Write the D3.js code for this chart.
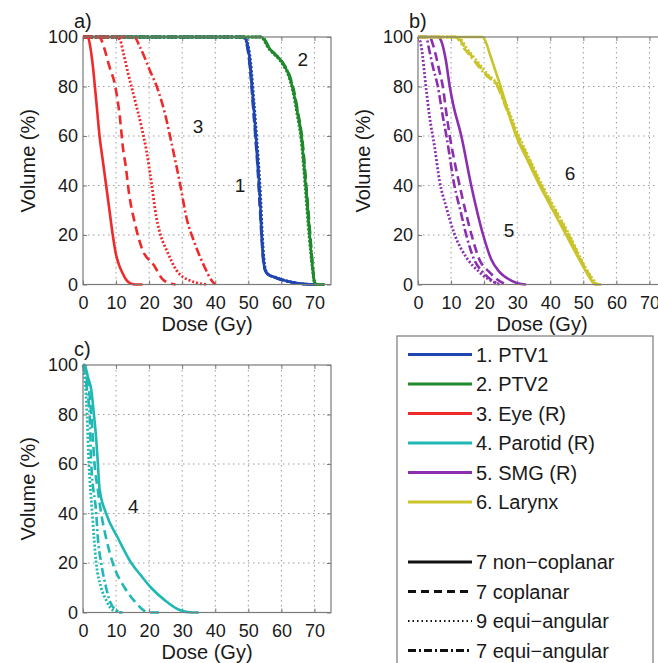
<!DOCTYPE html>
<html><head><meta charset="utf-8">
<script src="https://cdn.jsdelivr.net/npm/d3@7"></script>
<style>
html,body{margin:0;padding:0;background:#fff;}
svg{display:block;font-family:"Liberation Sans",Arial,Helvetica,sans-serif;}
</style></head>
<body>
<svg id="chart" width="658" height="663"></svg>
<script>
// ---- tick labels ----
const doseTicks = [0, 10, 20, 30, 40, 50, 60, 70];
const volumeTicks = [0, 20, 40, 60, 80, 100];

// ---- structures & techniques ----
const structureNames = ["1. PTV1", "2. PTV2", "3. Eye (R)", "4. Parotid (R)", "5. SMG (R)", "6. Larynx"];
const techniqueNames = ["7 non\u2212coplanar", "7 coplanar", "9 equi\u2212angular", "7 equi\u2212angular"];

// ---- DVH series: [dose (Gy), volume (%)] ----
const ptv1NonCop = [[0,100],[48.5,100],[49.5,98],[50.5,90],[51.5,74],[52.3,60],[53,47],[53.6,33],[54,21],[54.5,11],[55,6],[56,4],[58,3],[60,2],[63,1],[66,0.3],[70,0]];
const ptv1Cop    = [[0,100],[48.3,100],[49.3,98],[50.3,90],[51.3,74],[52.1,60],[52.8,47],[53.4,33],[53.9,21],[54.4,11],[55,6],[56,4],[58,2.8],[60,1.8],[63,0.9],[66,0.3],[70,0]];
const ptv1Equi9  = [[0,100],[48.7,100],[49.7,98],[50.7,90],[51.7,74],[52.5,60],[53.2,47],[53.8,33],[54.2,21],[54.7,11],[55.2,6],[56.2,4],[58,3],[60,2.1],[63,1],[66,0.3],[70,0]];
const ptv1Equi7  = [[0,100],[48.4,100],[49.4,98],[50.4,90],[51.4,74],[52.2,60],[52.9,47],[53.5,33],[54,21],[54.5,11],[55.1,6],[56,4],[58,2.9],[60,1.9],[63,0.9],[66,0.3],[70,0]];

const ptv2NonCop = [[0,100],[54,100],[55,98.5],[56,96],[58,93],[59.5,91],[61,88],[62,85.5],[63,81.5],[63.8,77],[64.9,69],[66.1,59],[67.4,39],[68.6,19],[69.4,7],[70,1],[70.5,0],[73,0]];
const ptv2Cop    = [[0,100],[54.2,100],[55.2,98.5],[56.2,96],[58.2,93],[59.7,91],[61.2,88],[62.2,85.5],[63.2,81.5],[64,77],[65.1,69],[66.3,59],[67.6,39],[68.8,19],[69.5,7],[70.1,1],[70.6,0],[73,0]];
const ptv2Equi9  = [[0,100],[53.8,100],[54.8,98.5],[55.8,96],[57.8,93],[59.3,91],[60.8,88],[61.8,85.5],[62.8,81.5],[63.6,77],[64.7,69],[65.9,59],[67.2,39],[68.4,19],[69.3,7],[69.9,1],[70.4,0],[73,0]];
const ptv2Equi7  = [[0,100],[54.1,100],[55.1,98.5],[56.1,96],[58.1,93],[59.6,91],[61.1,88],[62.1,85.5],[63.1,81.5],[63.9,77],[65,69],[66.2,59],[67.5,39],[68.7,19],[69.5,7],[70,1],[70.5,0],[73,0]];

const eyeNonCop = [[0,100],[1.5,100],[2.2,96],[3,88],[3.6,80],[4.3,70],[5,60],[6,50],[7,40],[8,30],[9,20],[10,12],[11,7.5],[12,4.5],[13,2],[14,0.7],[15,0.2],[16,0],[18,0]];
const eyeCop    = [[0,100],[5,100],[5.8,98],[6.6,94.7],[8,88],[9.7,80.5],[11.2,67],[12.1,55],[12.9,48],[13.9,37],[15.7,24.7],[17.8,14.6],[21.5,7.7],[23.9,2.4],[26,0.5],[28,0]];
const eyeEqui9  = [[0,100],[10,100],[11.2,98.8],[12.3,93],[13.7,85],[15.7,74.5],[17.7,63.6],[19.2,54],[20.7,41],[22.2,27],[23.7,19],[25.3,13.8],[28.3,5.7],[32.3,1.6],[35,0.5],[37.5,0]];
const eyeEqui7  = [[0,100],[15.5,100],[17.2,96],[20.2,86.6],[22.7,78.5],[24.8,69],[26.8,57],[29.3,41],[31.3,27],[33.8,16.6],[36.8,7],[38.9,1.6],[40,0]];

const parotidNonCop = [[0,100],[0.5,100],[1.5,95],[2.5,90],[3.3,80],[4,70],[4.5,60],[5,50],[7,40],[10.6,30],[14.6,20],[17.5,15],[20.6,10],[24.7,5],[29.2,1],[33,0],[35,0]];
const parotidCop    = [[0,100],[0.4,100],[1.2,94],[1.8,90],[2.5,80],[3,70],[3.5,60],[4.5,49.5],[5.5,40],[7,30],[9,20],[12.6,10],[16.1,3.8],[19.1,0.3],[20.5,0],[24,0]];
const parotidEqui9  = [[0,100],[0.3,98],[0.8,90],[1.2,80],[1.8,60],[2.8,40],[4,20],[5.5,10],[7,5],[9,1],[12,0]];
const parotidEqui7  = [[0,100],[0.4,98],[1.2,90],[2,80],[2.5,60],[4,40],[4.5,30],[5.5,20],[7,10],[8,5],[9.5,1.5],[12,0]];

const smgNonCop = [[0,100],[6,100],[7,98.5],[8.4,90.8],[9.6,80],[10.6,73],[13.1,60],[16.1,40],[19.6,20.5],[22.2,10],[24.7,5],[28.2,1.6],[31.2,0.2],[32.7,0]];
const smgCop    = [[0,100],[3.5,100],[4.5,97],[5.5,92],[6.5,86],[7.5,80],[8.5,70],[9.6,60],[11,50],[12.6,40],[14.3,30],[16.1,20.5],[18.6,10],[21.6,5],[24,2],[26.7,0]];
const smgEqui9  = [[0,100],[0.5,99],[1,96],[2.5,78.6],[3.5,67.8],[5,55.7],[6.5,42],[8.6,31],[11,20.5],[14.6,11],[18.6,5],[21.5,2],[24.7,0]];
const smgEqui7  = [[0,100],[2.5,100],[3.2,96],[4.5,88],[6,80],[7.5,68],[8.6,60],[11,40],[12.8,30],[14.6,20],[17,10],[19.6,5],[22,2],[24.7,0]];

const larynxNonCop = [[0,100],[19.5,100],[20.5,98],[22,92],[23.5,86],[25,80],[27,71],[29.7,60],[33.2,50],[36.8,40],[40.8,30],[44.8,20],[48,12],[50.9,5],[52.5,1.5],[53.5,0],[55.4,0]];
const larynxCop    = [[0,100],[11.6,100],[14.6,95],[17.6,90],[20.6,85],[24.2,80],[27.2,70],[30.2,60],[33.8,50],[37.3,40],[41.4,30],[45.6,20],[50.4,7],[52.5,2.5],[53.9,0]];
const larynxEqui9  = [[0,100],[12,100],[15,95],[18,90],[21,85],[24.5,80],[27.5,70],[30.5,60],[34,50],[37.6,40],[41.7,30],[45.8,20],[50.6,7],[52.7,2.5],[54.2,0]];
const larynxEqui7  = [[0,100],[11.2,100],[14.2,95],[17.2,90],[20.2,85],[24,80],[27,70],[30,60],[33.6,50],[37.1,40],[41.2,30],[45.4,20],[50.2,7],[52.3,2.5],[53.7,0]];

// ---- styles ----
const colors = ["#1f45b0", "#1e8a2c", "#ee2a2a", "#1fb8b4", "#8b2fb0", "#c9c42a"];
const dashes = [null, "9,5", "2,2", "9,3,2,3"];

const allSeries = [
  [ptv1NonCop, ptv1Cop, ptv1Equi9, ptv1Equi7], [ptv2NonCop, ptv2Cop, ptv2Equi9, ptv2Equi7],
  [eyeNonCop, eyeCop, eyeEqui9, eyeEqui7], [parotidNonCop, parotidCop, parotidEqui9, parotidEqui7],
  [smgNonCop, smgCop, smgEqui9, smgEqui7], [larynxNonCop, larynxCop, larynxEqui9, larynxEqui7]
];

const svg = d3.select("#chart");
const W = 248, H = 247.5;
const panels = [
  {label:"a)", x:83, y:37, series:[{s:0, ord:[1,2,3,0]}, {s:1, ord:[1,2,3,0]}, {s:2, ord:[0,1,2,3]}],
   nums:[{n:"1",d:47.5,v:40},{n:"2",d:66.5,v:91},{n:"3",d:34.8,v:64}]},
  {label:"b)", x:418, y:37, series:[{s:4, ord:[0,1,2,3]}, {s:5, ord:[1,2,3,0]}],
   nums:[{n:"5",d:27.5,v:22},{n:"6",d:46,v:45}]},
  {label:"c)", x:83, y:365, series:[{s:3, ord:[0,1,2,3]}],
   nums:[{n:"4",d:15.2,v:43}]}
];

const gridColor = "#9a9a9a", axisColor = "#7a7a7a";

panels.forEach(p => {
  const g = svg.append("g").attr("transform", `translate(${p.x},${p.y})`);
  const x = d3.scaleLinear().domain([0, 75]).range([0, W]);
  const y = d3.scaleLinear().domain([0, 100]).range([H, 0]);

  // grid
  g.append("g").selectAll("line").data(doseTicks.filter(d => d > 0)).join("line")
    .attr("x1", d => x(d)).attr("x2", d => x(d)).attr("y1", 0).attr("y2", H)
    .attr("stroke", gridColor).attr("stroke-width", 1).attr("stroke-dasharray", "1.5,3.5");
  g.append("g").selectAll("line").data(volumeTicks.filter(d => d > 0 && d < 100)).join("line")
    .attr("x1", 0).attr("x2", W).attr("y1", d => y(d)).attr("y2", d => y(d))
    .attr("stroke", gridColor).attr("stroke-width", 1).attr("stroke-dasharray", "1.5,3.5");

  // axes
  const ax = g.append("g").attr("transform", `translate(0,${H})`)
    .call(d3.axisBottom(x).tickValues(doseTicks).tickSizeInner(-4).tickSizeOuter(0).tickPadding(12).tickFormat(d3.format("d")));
  const ay = g.append("g")
    .call(d3.axisLeft(y).tickValues(volumeTicks).tickSizeInner(-4).tickSizeOuter(0).tickPadding(5).tickFormat(d3.format("d")));
  const axt = g.append("g").call(d3.axisTop(x).tickValues(doseTicks).tickSizeInner(-4).tickSizeOuter(0).tickFormat(""));
  const ayr = g.append("g").attr("transform", `translate(${W},0)`)
    .call(d3.axisRight(y).tickValues(volumeTicks).tickSizeInner(-4).tickSizeOuter(0).tickFormat(""));
  [ax, ay, axt, ayr].forEach(a => {
    a.attr("font-family", null);
    a.select(".domain").remove();
    a.selectAll(".tick line").attr("stroke", axisColor);
    a.selectAll("text").attr("font-size", 18).attr("fill", "#1a1a1a");
  });

  // curves
  const line = d3.line().x(d => x(d[0])).y(d => y(d[1])).curve(d3.curveMonotoneX);
  const cg = g.append("g");
  p.series.forEach(ser => {
    ser.ord.forEach(ti => {
      cg.append("path").datum(allSeries[ser.s][ti])
        .attr("d", line)
        .attr("fill", "none")
        .attr("stroke", colors[ser.s])
        .attr("stroke-width", ti === 2 ? 2.8 : 2.6)
        .attr("stroke-dasharray", dashes[ti])
        .attr("stroke-linejoin", "round");
    });
  });

  // box
  g.append("rect").attr("x", 0).attr("y", 0).attr("width", W).attr("height", H)
    .attr("fill", "none").attr("stroke", axisColor).attr("stroke-width", 1.2);

  // numbers
  g.selectAll("text.num").data(p.nums).join("text").attr("class", "num")
    .attr("x", d => x(d.d)).attr("y", d => y(d.v)).attr("dy", "0.35em")
    .attr("text-anchor", "middle").attr("font-size", 19).attr("fill", "#1a1a1a").text(d => d.n);

  // axis titles
  g.append("text").attr("x", W / 2).attr("y", H + 39).attr("dy", "0.35em")
    .attr("text-anchor", "middle").attr("font-size", 20).attr("fill", "#1a1a1a").text("Dose (Gy)");
  g.append("text").attr("transform", `translate(${-55},${H / 2}) rotate(-90)`).attr("dy", "0.35em")
    .attr("text-anchor", "middle").attr("font-size", 20).attr("fill", "#1a1a1a").text("Volume (%)");
  g.append("text").attr("x", -9).attr("y", -9).attr("font-size", 20).attr("fill", "#1a1a1a").text(p.label);
});

// ---- legend ----
const lg = svg.append("g");
lg.append("rect").attr("x", 397).attr("y", 336).attr("width", 256).attr("height", 360)
  .attr("fill", "#fff").attr("stroke", axisColor).attr("stroke-width", 1.2);
const rowY = d3.scaleLinear().domain([0, 1]).range([354.5, 384]);
structureNames.forEach((name, i) => {
  const yy = rowY(i);
  lg.append("line").attr("x1", 408).attr("x2", 472).attr("y1", yy).attr("y2", yy)
    .attr("stroke", colors[i]).attr("stroke-width", 3);
  lg.append("text").attr("x", 476).attr("y", yy + 7).attr("font-size", 20).attr("fill", "#1a1a1a").text(name);
});
const rowY2 = d3.scaleLinear().domain([0, 1]).range([562, 591.5]);
const legDash = [null, "8,5", "1.5,3", "8,3,2,3"];
techniqueNames.forEach((name, i) => {
  const yy = rowY2(i);
  lg.append("line").attr("x1", 408).attr("x2", 472).attr("y1", yy).attr("y2", yy)
    .attr("stroke", "#111").attr("stroke-width", i === 2 ? 2 : 3).attr("stroke-dasharray", legDash[i]);
  lg.append("text").attr("x", 476).attr("y", yy + 7).attr("font-size", 20).attr("fill", "#1a1a1a").text(name);
});
</script>
</body></html>
